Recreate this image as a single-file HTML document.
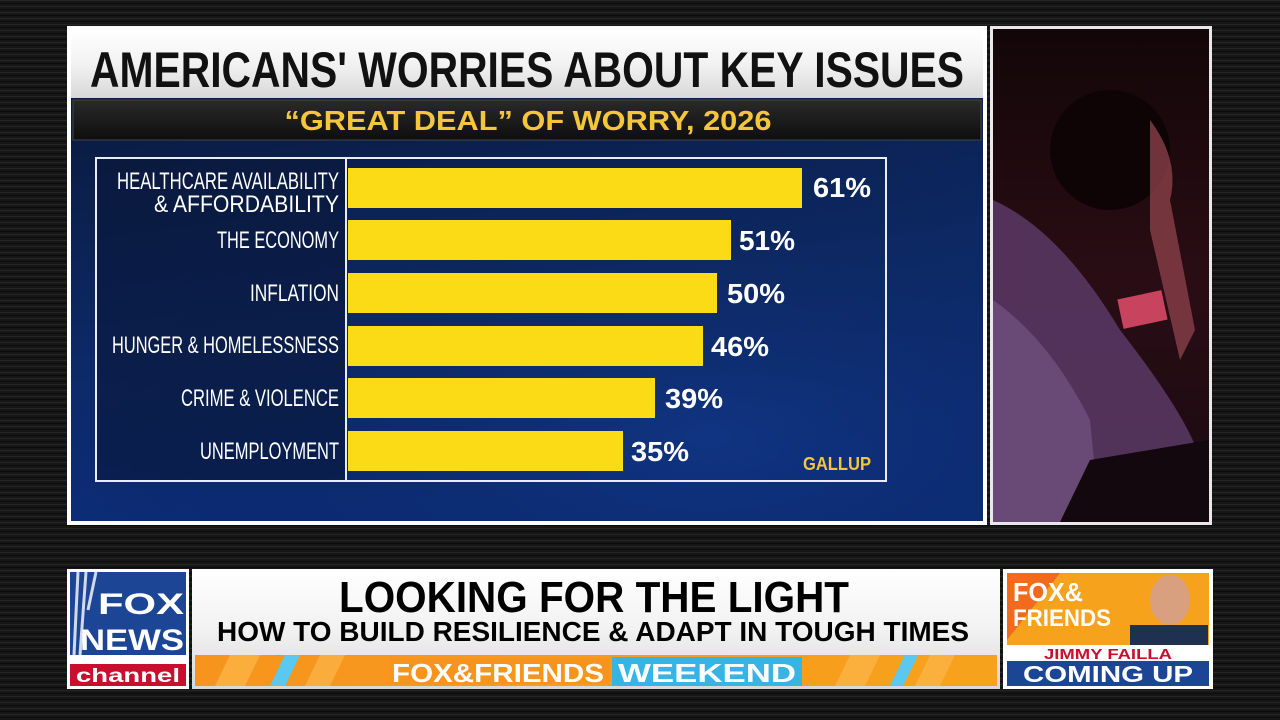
<!DOCTYPE html>
<html><head><meta charset="utf-8"><style>
html,body{margin:0;padding:0;background:#111;width:1280px;height:720px;overflow:hidden}
svg{display:block}
text{font-family:"Liberation Sans",sans-serif}
</style></head><body>
<svg width="1280" height="720" viewBox="0 0 1280 720" xmlns="http://www.w3.org/2000/svg">
<defs>
<pattern id="wood" width="1280" height="6" patternUnits="userSpaceOnUse">
<rect width="1280" height="6" fill="#161616"/><rect y="0" width="1280" height="1" fill="#262626"/><rect y="3" width="1280" height="1" fill="#0c0c0c"/>
</pattern>
<linearGradient id="navy" x1="0" y1="0" x2="0.3" y2="1">
<stop offset="0" stop-color="#0a1a3e"/><stop offset="0.6" stop-color="#0d2a68"/><stop offset="1" stop-color="#0b2c7a"/></linearGradient>
<radialGradient id="navy2" cx="0.7" cy="0.8" r="0.7"><stop offset="0" stop-color="#143a8a" stop-opacity="0.6"/><stop offset="1" stop-color="#0a1a3e" stop-opacity="0"/></radialGradient>
<linearGradient id="white" x1="0" y1="0" x2="0" y2="1"><stop offset="0" stop-color="#ffffff"/><stop offset="0.5" stop-color="#f2f2f2"/><stop offset="1" stop-color="#d8d8d8"/></linearGradient>
<linearGradient id="sub" x1="0" y1="0" x2="0" y2="1"><stop offset="0" stop-color="#2a2a2a"/><stop offset="1" stop-color="#0e0e0e"/></linearGradient>
<linearGradient id="photo" x1="0" y1="0" x2="0" y2="1"><stop offset="0" stop-color="#120608"/><stop offset="0.5" stop-color="#2a0d14"/><stop offset="1" stop-color="#1a0a12"/></linearGradient>
<linearGradient id="orange" x1="0" y1="0" x2="1" y2="0"><stop offset="0" stop-color="#f7941d"/><stop offset="1" stop-color="#f7a21d"/></linearGradient>
</defs>
<rect width="1280" height="720" fill="url(#wood)"/>

<!-- main panel -->
<rect x="67" y="26" width="920" height="499" fill="#fff"/>
<rect x="71" y="30" width="912" height="68" fill="url(#white)"/>
<text x="527" y="87" text-anchor="middle" font-size="50" font-weight="bold" fill="#111" textLength="874" lengthAdjust="spacingAndGlyphs">AMERICANS' WORRIES ABOUT KEY ISSUES</text>
<rect x="71" y="98" width="912" height="423" fill="url(#navy)"/>
<rect x="71" y="98" width="912" height="423" fill="url(#navy2)"/>
<rect x="73" y="100" width="908" height="40" fill="url(#sub)" stroke="#444" stroke-width="1"/>
<text x="528" y="130" text-anchor="middle" font-size="28" font-weight="bold" fill="#f5c63c" textLength="487" lengthAdjust="spacingAndGlyphs">“GREAT DEAL” OF WORRY, 2026</text>

<rect x="96" y="158" width="790" height="323" fill="none" stroke="#e8ecf4" stroke-width="2"/>
<rect x="97" y="159" width="249" height="321" fill="#0a1838" opacity="0.6"/>
<line x1="346" y1="158" x2="346" y2="481" stroke="#e8ecf4" stroke-width="2"/>

<g fill="#fbdb15">
<rect x="348" y="168" width="454" height="40"/>
<rect x="348" y="220" width="383" height="40"/>
<rect x="348" y="273" width="369" height="40"/>
<rect x="348" y="326" width="355" height="40"/>
<rect x="348" y="378" width="307" height="40"/>
<rect x="348" y="431" width="275" height="40"/>
</g>
<g fill="#fff" font-size="24" text-anchor="end">
<text x="339" y="189" textLength="222" lengthAdjust="spacingAndGlyphs">HEALTHCARE AVAILABILITY</text>
<text x="339" y="212" textLength="185" lengthAdjust="spacingAndGlyphs">&amp; AFFORDABILITY</text>
<text x="339" y="248" textLength="122" lengthAdjust="spacingAndGlyphs">THE ECONOMY</text>
<text x="339" y="301" textLength="89" lengthAdjust="spacingAndGlyphs">INFLATION</text>
<text x="339" y="353" textLength="227" lengthAdjust="spacingAndGlyphs">HUNGER &amp; HOMELESSNESS</text>
<text x="339" y="406" textLength="158" lengthAdjust="spacingAndGlyphs">CRIME &amp; VIOLENCE</text>
<text x="339" y="459" textLength="139" lengthAdjust="spacingAndGlyphs">UNEMPLOYMENT</text>
</g>
<g fill="#fff" font-size="28" font-weight="bold">
<text x="813" y="197" textLength="58" lengthAdjust="spacingAndGlyphs">61%</text>
<text x="739" y="250" textLength="56" lengthAdjust="spacingAndGlyphs">51%</text>
<text x="727" y="303" textLength="58" lengthAdjust="spacingAndGlyphs">50%</text>
<text x="711" y="356" textLength="58" lengthAdjust="spacingAndGlyphs">46%</text>
<text x="665" y="408" textLength="58" lengthAdjust="spacingAndGlyphs">39%</text>
<text x="631" y="461" textLength="58" lengthAdjust="spacingAndGlyphs">35%</text>
</g>
<text x="803" y="470" font-size="18" font-weight="bold" fill="#f5c63c" textLength="68" lengthAdjust="spacingAndGlyphs">GALLUP</text>

<!-- photo -->
<rect x="990" y="26" width="222" height="499" fill="#e8e8e8"/>
<rect x="993" y="29" width="216" height="493" fill="url(#photo)"/>
<ellipse cx="1110" cy="150" rx="60" ry="60" fill="#0e0406"/>
<path d="M993 200 Q1060 230 1120 330 Q1190 420 1200 460 L1200 522 L993 522 Z" fill="#5a3a66" opacity="0.85"/>
<path d="M993 300 Q1050 340 1090 420 L1100 522 L993 522 Z" fill="#7a5888" opacity="0.6"/>
<path d="M1150 120 Q1180 160 1170 200 L1195 330 L1180 360 L1150 230 Z" fill="#8a4048" opacity="0.8"/>
<rect x="1120" y="295" width="45" height="30" fill="#c8445e" transform="rotate(-12 1140 310)"/>
<path d="M1090 460 L1209 440 L1209 522 L1060 522 Z" fill="#12080e"/>

<!-- lower third -->
<rect x="67" y="569" width="122" height="120" fill="#fff"/>
<rect x="70" y="572" width="116" height="83" fill="#1d4596"/>
<path d="M78 572 L74 655 M86 572 L80 655 M96 572 L88 610" stroke="#fff" stroke-width="3" opacity="0.8"/>
<text x="184" y="614" text-anchor="end" font-size="30" font-weight="bold" fill="#fff" textLength="86" lengthAdjust="spacingAndGlyphs">FOX</text>
<text x="184" y="650" text-anchor="end" font-size="30" font-weight="bold" fill="#fff" textLength="104" lengthAdjust="spacingAndGlyphs">NEWS</text>
<rect x="70" y="664" width="116" height="22" fill="#c8102e"/>
<text x="128" y="682" text-anchor="middle" font-size="19" font-weight="bold" fill="#fff" textLength="104" lengthAdjust="spacingAndGlyphs">channel</text>

<rect x="192" y="569" width="808" height="120" fill="url(#white)"/>
<text x="594" y="612" text-anchor="middle" font-size="44" font-weight="bold" fill="#000" textLength="510" lengthAdjust="spacingAndGlyphs">LOOKING FOR THE LIGHT</text>
<text x="593" y="641" text-anchor="middle" font-size="28" font-weight="bold" fill="#000" textLength="752" lengthAdjust="spacingAndGlyphs">HOW TO BUILD RESILIENCE &amp; ADAPT IN TOUGH TIMES</text>
<rect x="195" y="655" width="802" height="31" fill="url(#orange)"/>
<g fill="#fbb040" opacity="0.9"><path d="M230 655 L260 655 L245 686 L215 686Z"/><path d="M320 655 L345 655 L330 686 L305 686Z"/><path d="M850 655 L880 655 L865 686 L835 686Z"/><path d="M930 655 L955 655 L940 686 L915 686Z"/></g>
<g fill="#5ac8f0"><path d="M285 655 L300 655 L285 686 L270 686Z"/><path d="M905 655 L918 655 L903 686 L890 686Z"/></g>
<rect x="390" y="658" width="220" height="26" fill="#f7941d"/>
<text x="498" y="682" text-anchor="middle" font-size="26" font-weight="bold" fill="#fff" textLength="212" lengthAdjust="spacingAndGlyphs">FOX&amp;FRIENDS</text>
<rect x="612" y="657" width="190" height="29" fill="#36b5e5"/>
<text x="707" y="682" text-anchor="middle" font-size="26" font-weight="bold" fill="#fff" textLength="178" lengthAdjust="spacingAndGlyphs">WEEKEND</text>

<rect x="1003" y="569" width="210" height="120" fill="#fff"/>
<rect x="1007" y="573" width="202" height="72" fill="#f7a21d"/>
<path d="M1007 573 L1060 573 L1007 640Z" fill="#f26a1b"/>
<text x="1013" y="601" font-size="26" font-weight="bold" fill="#fff" textLength="70" lengthAdjust="spacingAndGlyphs">FOX&amp;</text>
<text x="1013" y="626" font-size="24" font-weight="bold" fill="#fff" textLength="98" lengthAdjust="spacingAndGlyphs">FRIENDS</text>
<rect x="1130" y="625" width="78" height="20" fill="#1f3050"/>
<ellipse cx="1170" cy="600" rx="20" ry="25" fill="#d9a080"/>
<rect x="1007" y="645" width="202" height="16" fill="#fff"/>
<text x="1108" y="659" text-anchor="middle" font-size="15" font-weight="bold" fill="#c8102e" textLength="128" lengthAdjust="spacingAndGlyphs">JIMMY FAILLA</text>
<rect x="1007" y="661" width="202" height="25" fill="#1d4596"/>
<text x="1108" y="682" text-anchor="middle" font-size="23" font-weight="bold" fill="#fff" textLength="170" lengthAdjust="spacingAndGlyphs">COMING UP</text>
</svg>
</body></html>
